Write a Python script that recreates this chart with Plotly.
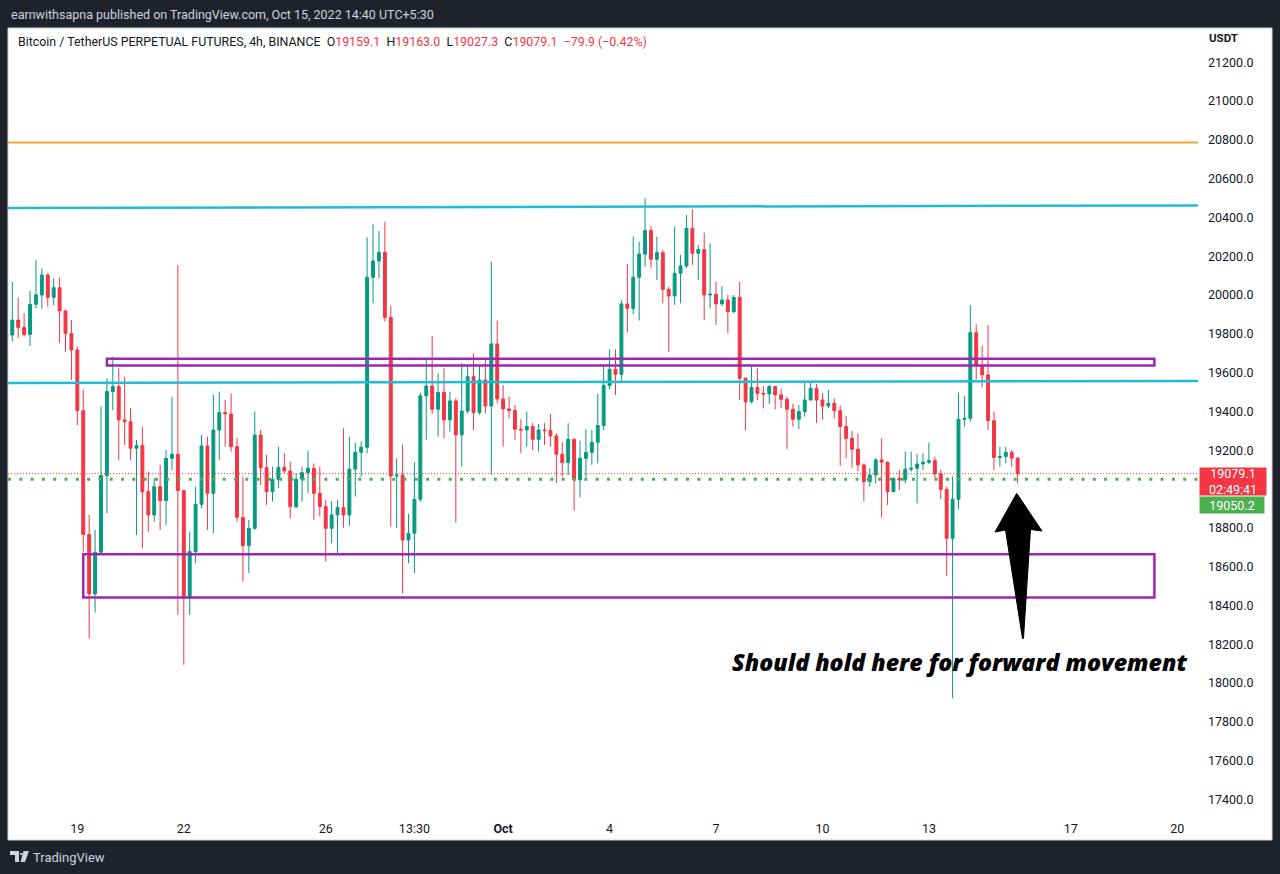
import pandas as pd
import plotly.graph_objects as go

# BTCUSDT perpetual, 4h candles (UTC+5:30)
open_ = [19794, 19871, 19833, 19797, 19952, 20000, 20103, 19988, 20038, 19918,
         19802, 19717, 19404, 18766, 18459, 18674, 19069, 19502, 19528, 19356,
         19347, 19210, 19224, 18986, 18866, 19012, 18940, 19158, 19179, 18992,
         18437, 18677, 18921, 19222, 18978, 19304, 19394, 19387, 19218, 18854,
         18708, 18797, 19278, 19110, 18986, 19050, 19112, 19093, 18909, 19050,
         19084, 19107, 18978, 18909, 18797, 18866, 18904, 18866, 19102, 19189,
         19215, 20091, 20175, 20220, 19885, 19067, 19071, 18737, 18772, 18947,
         19480, 19531, 19411, 19498, 19356, 19454, 19279, 19402, 19579, 19394,
         19562, 19428, 19748, 19464, 19413, 19404, 19308, 19304, 19322, 19256,
         19304, 19301, 19273, 19179, 19136, 19256, 19047, 19158, 19189, 19241,
         19327, 19533, 19617, 19591, 19954, 19931, 20091, 20211, 20332, 20184,
         20218, 20029, 19995, 20112, 20150, 20344, 20215, 20235, 20000, 20004,
         19954, 19974, 19914, 19988, 19571, 19450, 19523, 19493, 19490, 19528,
         19485, 19462, 19411, 19359, 19399, 19459, 19519, 19459, 19428, 19442,
         19404, 19322, 19261, 19205, 19124, 19038, 19072, 19150, 19138, 18986,
         19055, 19047, 19102, 19107, 19129, 19138, 19146, 19078, 18998, 18746,
         18947, 19359, 19364, 19806, 19634, 19588, 19352, 19162, 19167, 19189,
         19159.1]
high = [20069, 19988, 19906, 20021, 20180, 20137, 20112, 20086, 20089, 19925,
        19871, 19734, 19510, 18866, 18789, 19425, 19571, 19682, 19622, 19579,
        19416, 19253, 19321, 19090, 19055, 19124, 19201, 19476, 20155, 18995,
        18780, 19012, 19278, 19270, 19485, 19502, 19459, 19493, 19261, 19064,
        18840, 19399, 19304, 19175, 19115, 19218, 19184, 19141, 19081, 19115,
        19198, 19132, 19115, 18943, 18938, 18943, 19313, 19270, 19239, 19244,
        20297, 20364, 20330, 20378, 19943, 19158, 19230, 18871, 19138, 19497,
        19665, 19789, 19596, 19622, 19502, 19468, 19648, 19631, 19699, 19639,
        19665, 20172, 19868, 19536, 19476, 19433, 19359, 19399, 19339, 19335,
        19339, 19387, 19287, 19241, 19339, 19261, 19249, 19308, 19304, 19490,
        19634, 19720, 19720, 19974, 20160, 20301, 20275, 20498, 20356, 20301,
        20232, 20043, 20352, 20206, 20412, 20442, 20258, 20321, 20266, 20069,
        20047, 20000, 20000, 20069, 19576, 19631, 19622, 19531, 19536, 19531,
        19519, 19476, 19438, 19433, 19548, 19548, 19541, 19493, 19510, 19468,
        19430, 19376, 19300, 19287, 19132, 19107, 19158, 19261, 19141, 19060,
        19098, 19193, 19193, 19181, 19184, 19239, 19167, 19098, 19012, 19064,
        19497, 19480, 19948, 19849, 19737, 19845, 19399, 19218, 19218, 19201,
        19163.0]
low = [19760, 19777, 19785, 19737, 19931, 19931, 19940, 19948, 19754, 19708,
       19562, 19330, 18677, 18230, 18363, 18669, 18875, 19407, 19150, 19227,
       19150, 18763, 18694, 18780, 18832, 18789, 18815, 19098, 18351, 18093,
       18351, 18617, 18900, 18789, 18772, 19150, 19218, 19193, 18832, 18523,
       18566, 18790, 19021, 18918, 18935, 19004, 19081, 18849, 18900, 18935,
       18978, 18840, 18858, 18626, 18720, 18669, 18800, 18810, 18961, 19064,
       19184, 19957, 20086, 19863, 18806, 18798, 18462, 18617, 18566, 18935,
       19253, 19387, 19270, 19261, 19296, 18827, 19115, 19390, 19304, 19382,
       19390, 19072, 19442, 19218, 19364, 19253, 19184, 19218, 19201, 19193,
       19227, 19218, 19030, 19064, 19072, 18889, 18957, 19060, 19124, 19132,
       19304, 19514, 19485, 19553, 19808, 19902, 19868, 20146, 20138, 20077,
       19957, 19708, 19949, 19957, 20138, 20155, 20077, 19871, 19931, 19845,
       19943, 19803, 19906, 19459, 19304, 19442, 19459, 19416, 19438, 19411,
       19416, 19205, 19322, 19308, 19373, 19455, 19339, 19359, 19416, 19364,
       19119, 19158, 19110, 19090, 18935, 19012, 19029, 18854, 18918, 18983,
       18995, 19029, 19090, 18926, 19098, 19129, 19055, 18947, 18552, 17921,
       18895, 19321, 19347, 19565, 19524, 19304, 19098, 19115, 19132, 19115,
       19027.3]
close = [19871, 19833, 19797, 19952, 20000, 20103, 19988, 20038, 19918, 19802,
         19717, 19404, 18766, 18459, 18674, 19069, 19502, 19528, 19356, 19347,
         19210, 19224, 18986, 18866, 19012, 18940, 19158, 19179, 18992, 18437,
         18677, 18921, 19222, 18978, 19304, 19394, 19387, 19218, 18854, 18708,
         18797, 19278, 19110, 18986, 19050, 19112, 19093, 18909, 19050, 19084,
         19107, 18978, 18909, 18797, 18866, 18904, 18866, 19102, 19189, 19215,
         20091, 20175, 20220, 19885, 19067, 19071, 18737, 18772, 18947, 19480,
         19531, 19411, 19498, 19356, 19454, 19279, 19402, 19579, 19394, 19562,
         19428, 19748, 19464, 19413, 19404, 19308, 19304, 19322, 19256, 19304,
         19301, 19273, 19179, 19136, 19256, 19047, 19158, 19189, 19241, 19327,
         19533, 19617, 19591, 19954, 19931, 20091, 20211, 20332, 20184, 20218,
         20029, 19995, 20112, 20150, 20344, 20215, 20235, 20000, 20004, 19954,
         19974, 19914, 19988, 19571, 19450, 19523, 19493, 19490, 19528, 19485,
         19462, 19411, 19359, 19399, 19459, 19519, 19459, 19428, 19442, 19404,
         19322, 19261, 19205, 19124, 19038, 19072, 19150, 19138, 18986, 19055,
         19047, 19102, 19107, 19129, 19138, 19146, 19078, 18998, 18746, 18947,
         19359, 19364, 19806, 19634, 19588, 19352, 19162, 19167, 19189, 19159.1,
         19079.1]

first_bar = "2022-09-17 05:30"
times = pd.date_range(first_bar, periods=len(close), freq="4h")

date_ticks = ["2022-09-19 01:30", "2022-09-22 01:30", "2022-09-26 01:30",
              "2022-09-28 13:30", "2022-10-01 01:30", "2022-10-04 01:30",
              "2022-10-07 01:30", "2022-10-10 01:30", "2022-10-13 01:30",
              "2022-10-17 01:30", "2022-10-20 01:30"]
date_labels = ["19", "22", "26", "13:30", "<b>Oct</b>", "4", "7", "10", "13", "17", "20"]

price_ticks = [17400, 17600, 17800, 18000, 18200, 18400, 18600, 18800,
               19200, 19400, 19600, 19800, 20000, 20200, 20400, 20600,
               20800, 21000, 21200]

# drawn levels
orange_level = 20786
top_cyan = [20448, 20462]
mid_cyan = [19547, 19557]
upper_zone = [19637, 19672]
lower_zone = [18441, 18663]
upper_zone_span = ["2022-09-19 21:30", "2022-10-19 10:00"]
lower_zone_span = ["2022-09-19 05:30", "2022-10-19 10:00"]
support_level = 19050.2
last_price = 19079.1
countdown = "02:49:41"

W, H = 1280, 874
L, R, T, B = 8, 1198, 28, 815


def px(x, y):
    return (x - L) / (R - L), (B - y) / (B - T)


GREEN = "#089981"
RED = "#f23645"
INK = "#131722"

fig = go.Figure()
fig.add_trace(go.Candlestick(
    x=times, open=open_, high=high, low=low, close=close,
    increasing=dict(line=dict(color=GREEN, width=1), fillcolor=GREEN),
    decreasing=dict(line=dict(color=RED, width=1), fillcolor=RED),
    whiskerwidth=0, showlegend=False,
))

shapes = []
# white chart panel
x0, y0 = px(8, 28)
x1, y1 = px(1272, 840)
shapes.append(dict(type="rect", xref="paper", yref="paper", x0=x0, y0=y1, x1=x1, y1=y0,
                   fillcolor="white", line=dict(color="#d1d4dc", width=1), layer="below"))
shapes.append(dict(type="line", xref="paper", yref="y", x0=0, x1=1,
                   y0=orange_level, y1=orange_level, line=dict(color="#f7a531", width=2)))
shapes.append(dict(type="line", xref="paper", yref="y", x0=0, x1=1,
                   y0=top_cyan[0], y1=top_cyan[1], line=dict(color="#1fbcd2", width=2.5)))
shapes.append(dict(type="line", xref="paper", yref="y", x0=0, x1=1,
                   y0=mid_cyan[0], y1=mid_cyan[1], line=dict(color="#1fbcd2", width=2.5)))
shapes.append(dict(type="rect", xref="x", yref="y",
                   x0=upper_zone_span[0], x1=upper_zone_span[1],
                   y0=upper_zone[0], y1=upper_zone[1],
                   line=dict(color="#9c27b0", width=2.5)))
shapes.append(dict(type="rect", xref="x", yref="y",
                   x0=lower_zone_span[0], x1=lower_zone_span[1],
                   y0=lower_zone[0], y1=lower_zone[1],
                   line=dict(color="#9c27b0", width=2.5)))
shapes.append(dict(type="line", xref="paper", yref="y", x0=0, x1=1,
                   y0=last_price, y1=last_price,
                   line=dict(color=RED, width=1, dash="1px,2px")))
shapes.append(dict(type="line", xref="paper", yref="y", x0=0, x1=1,
                   y0=support_level, y1=support_level,
                   line=dict(color="#4caf50", width=3, dash="3px,8.3px")))

# hand drawn arrow
arrow_px = [(1016.7, 493.3), (1042, 531), (1030.5, 529.5), (1023.5, 638.5),
            (1022.5, 638.5), (1005.5, 530), (995, 532)]
pts = [px(a, b) for a, b in arrow_px]
path = "M " + " L ".join(f"{a:.5f},{b:.5f}" for a, b in pts) + " Z"
shapes.append(dict(type="path", xref="paper", yref="paper", path=path,
                   fillcolor="black", line=dict(color="black", width=1)))

# TradingView logo (footer)
logo1 = [(10, 851), (19, 851), (19, 862), (15, 862), (15, 855), (10, 855)]
logo2 = [(23.5, 851), (29, 851), (25, 862), (20.5, 862)]
for poly in (logo1, logo2):
    pp = [px(a, b) for a, b in poly]
    shapes.append(dict(type="path", xref="paper", yref="paper",
                       path="M " + " L ".join(f"{a:.5f},{b:.5f}" for a, b in pp) + " Z",
                       fillcolor="#d1d4dc", line=dict(width=0)))
cx, cy = px(21.3, 853)
cx2, cy2 = px(23.3, 855)
shapes.append(dict(type="circle", xref="paper", yref="paper", x0=cx - 0.0013, x1=cx2 - 0.0003,
                   y0=cy2, y1=cy, fillcolor="#d1d4dc", line=dict(width=0)))

annotations = []


def note(x, y, text, size=12.5, color=INK, xanchor="left", **kw):
    xp, yp = px(x, y)
    annotations.append(dict(xref="paper", yref="paper", x=xp, y=yp, text=text,
                            showarrow=False, xanchor=xanchor, yanchor="middle",
                            font=dict(size=size, color=color, family="Roboto"), **kw))


note(9, 15, "earnwithsapna published on TradingView.com, Oct 15, 2022 14:40 UTC+5:30",
     size=12.5, color="#d1d4dc")


def red(s):
    return f"<span style='color:{RED}'>{s}</span>"


legend = ("Bitcoin / TetherUS PERPETUAL FUTURES, 4h, BINANCE  "
          f"O{red('19159.1')}  H{red('19163.0')}  L{red('19027.3')}  "
          f"C{red('19079.1')}  {red('−79.9 (−0.42%)')}")
note(16, 42, legend, size=12.4)
note(1207, 38, "<b>USDT</b>", size=11.5)
note(31, 857, "TradingView", size=13, color="#d1d4dc")

xa, ya = px(959, 662)
annotations.append(dict(xref="paper", yref="paper", x=xa, y=ya, showarrow=False,
                        xanchor="center", yanchor="middle",
                        text="Should hold here for forward movement",
                        font=dict(size=23.2, color="black", family="Open Sans",
                                  weight=800, style="italic")))

# price tags on the scale
annotations.append(dict(xref="paper", yref="y", x=1, y=last_price, xanchor="left",
                        yanchor="top", xshift=1, yshift=7, showarrow=False,
                        text=f"{last_price:.1f}<br>{countdown}", align="center",
                        width=64, height=25, borderpad=1, bgcolor=RED,
                        font=dict(size=12.5, color="white", family="Roboto")))
annotations.append(dict(xref="paper", yref="y", x=1, y=support_level, xanchor="left",
                        yanchor="top", xshift=1, yshift=-17, showarrow=False,
                        text=f"{support_level:.1f}", align="center",
                        width=62, height=14, borderpad=1, bgcolor="#4caf50",
                        font=dict(size=12.5, color="white", family="Roboto")))

fig.update_layout(
    width=W, height=H,
    margin=dict(l=L, r=W - R, t=T, b=H - B),
    paper_bgcolor="#1e222d", plot_bgcolor="white",
    shapes=shapes, annotations=annotations,
    showlegend=False,
    font=dict(family="Roboto", color=INK),
    xaxis=dict(type="date", range=["2022-09-17 02:36", "2022-10-20 15:30"],
               tickvals=date_ticks, ticktext=date_labels, showgrid=False,
               zeroline=False, showline=False, ticks="", ticklabelstandoff=4,
               tickfont=dict(size=12.5, color=INK), rangeslider=dict(visible=False),
               fixedrange=True),
    yaxis=dict(side="right", range=[17319.4, 21376.4], tickvals=price_ticks,
               ticktext=[f"{v:.1f}" for v in price_ticks], showgrid=False,
               zeroline=False, showline=False, ticks="", ticklabelstandoff=9,
               tickfont=dict(size=12.5, color=INK), fixedrange=True),
)

# page body has a default 8px margin; drop it so the figure sits at 0,0
fig.write_html("out.html", config=dict(displayModeBar=False),
               post_script="document.body.style.margin='0';document.body.style.overflow='hidden';")
